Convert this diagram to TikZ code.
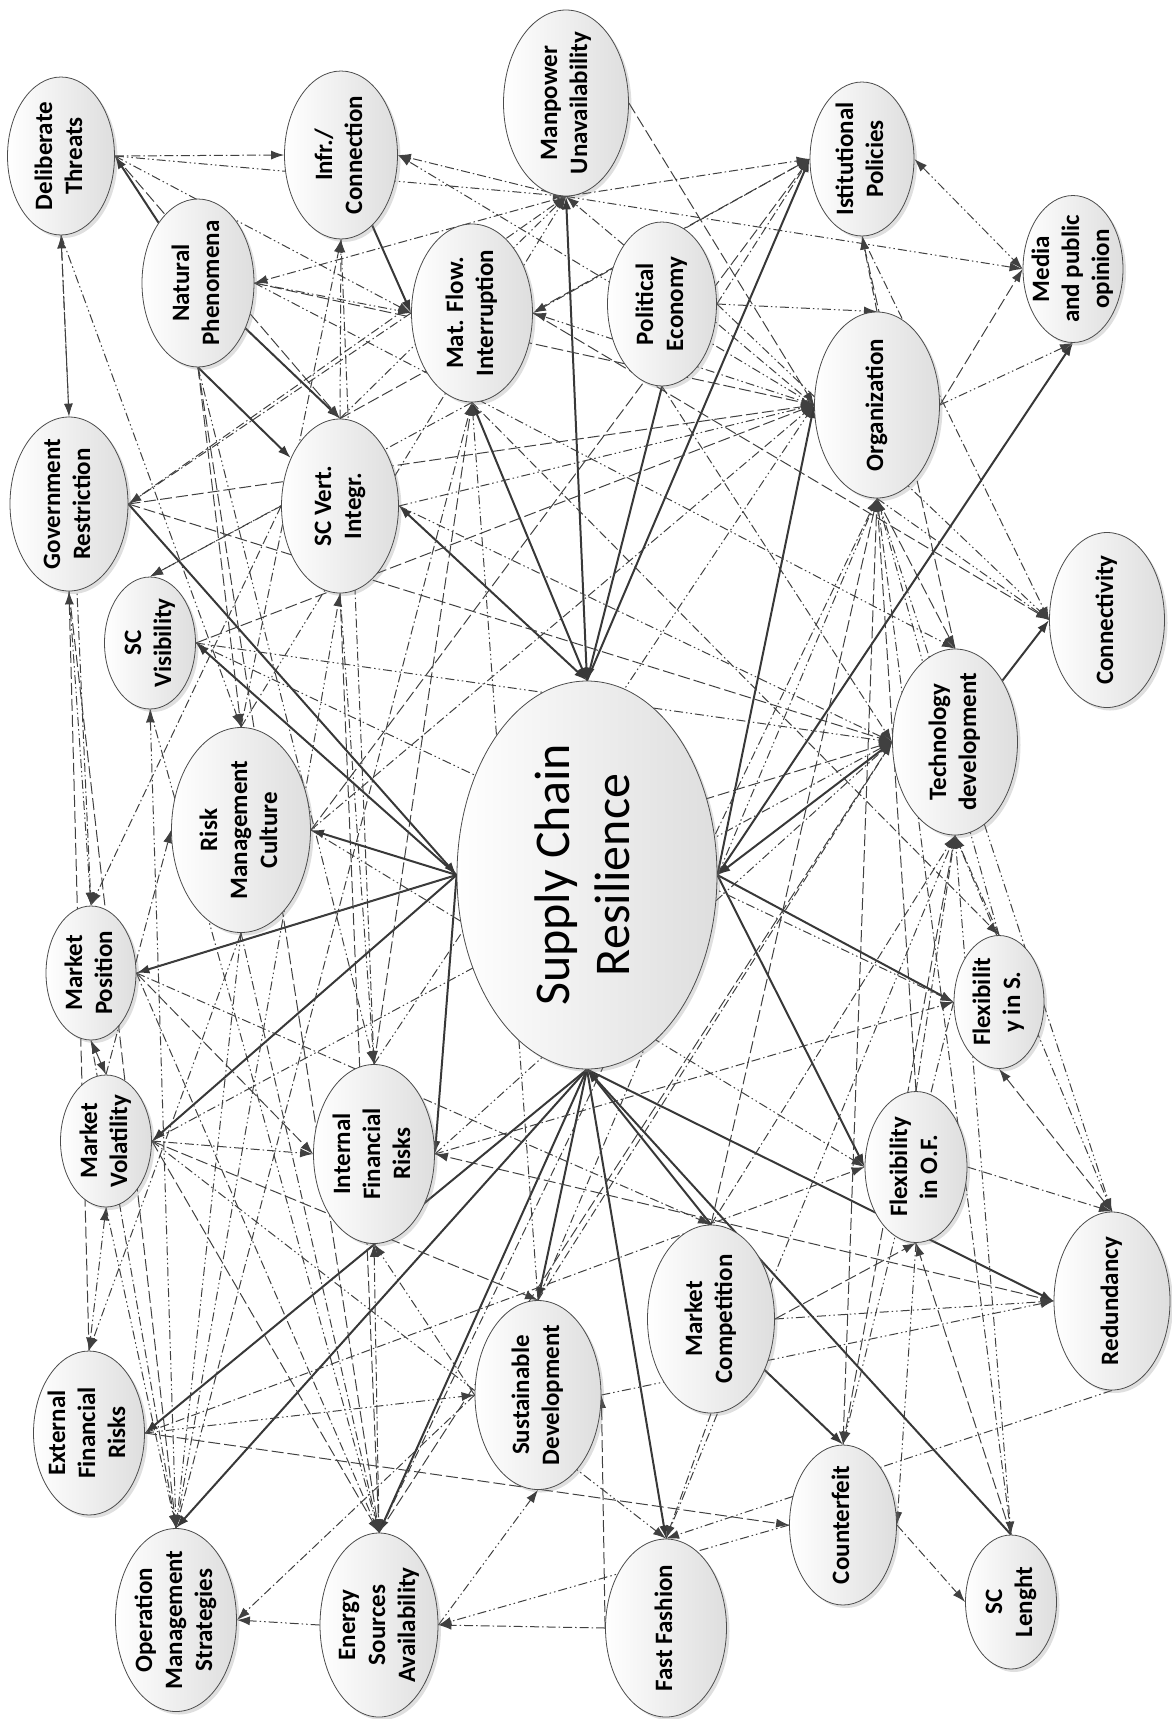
\documentclass[tikz,border=0pt]{standalone}
\usepackage{fontspec}
\setmainfont{Carlito}
\usepackage{graphicx}
\usetikzlibrary{shapes.geometric,shadows,arrows.meta,backgrounds}

\newcommand{\vlabel}[1]{\rotatebox{90}{\begin{tabular}{@{}c@{}}#1\end{tabular}}}

\begin{document}
\begin{tikzpicture}[x=1pt, y=-1pt, >={Latex[length=13pt,width=9pt]},
    factor/.style ={ellipse, draw=black!70, line width=0.8pt, left color=white, right color=black!13,
        drop shadow={opacity=0.25, shadow xshift=3pt, shadow yshift=-3pt}, inner sep=-12pt,
        font=\bfseries\fontsize{25}{30}\selectfont},
    core/.style ={factor, font=\fontsize{50}{60}\selectfont},
    impact/.style ={draw=black!78, line width=2pt, ->},
    link/.style ={draw=black!75, line width=1pt, dash pattern=on 9pt off 3pt on 1.5pt off 3pt on 1.5pt off 3pt, ->},
    linkb/.style ={link, dash pattern=on 9pt off 3pt on 1.5pt off 3pt},
    linkc/.style ={link, dash pattern=on 12pt off 4pt}]
   \useasboundingbox (0,0) rectangle (1171,1719);

   % top row
   \node[factor, minimum width=107pt, minimum height=158pt] (DT) at (61,156) {\vlabel{Deliberate\\Threats}};
   \node[factor, minimum width=113pt, minimum height=168pt] (IC) at (341,155) {\vlabel{Infr./\\Connection}};
   \node[factor, minimum width=125pt, minimum height=186pt] (MU) at (566,103) {\vlabel{Manpower\\Unavailability}};
   \node[factor, minimum width=104pt, minimum height=154pt] (IP) at (862,159) {\vlabel{Istitutional\\Policies}};
   \node[factor, minimum width=100pt, minimum height=147pt] (MO) at (1073,269) {\vlabel{Media\\and public\\opinion}};
   \node[factor, minimum width=112pt, minimum height=168pt] (NP) at (198,283) {\vlabel{Natural\\Phenomena}};
   \node[factor, minimum width=121pt, minimum height=178pt] (MF) at (472,313) {\vlabel{Mat. Flow.\\Interruption}};
   \node[factor, minimum width=109pt, minimum height=164pt] (PE) at (662,304) {\vlabel{Political\\Economy}};
   \node[factor, minimum width=125pt, minimum height=186pt] (OR) at (877,405) {\vlabel{Organization}};

   % middle
   \node[factor, minimum width=118pt, minimum height=174pt] (GR) at (69,504) {\vlabel{Government\\Restriction}};
   \node[factor, minimum width=117pt, minimum height=174pt] (VI) at (340,506) {\vlabel{SC Vert.\\Integr.}};
   \node[factor, minimum width=91pt, minimum height=132pt] (SV) at (150,643) {\vlabel{SC\\Visibility}};
   \node[factor, minimum width=115pt, minimum height=175pt] (CO) at (1107,620) {\vlabel{Connectivity}};
   \node[factor, minimum width=125pt, minimum height=186pt] (TD) at (955,742) {\vlabel{Technology\\development}};
   \node[factor, minimum width=139pt, minimum height=205pt] (RM) at (241,830) {\vlabel{Risk\\Management\\Culture}};
   \node[core, minimum width=260pt, minimum height=388pt] (SCR) at (587,875) {\vlabel{Supply Chain\\Resilience}};
   \node[factor, minimum width=90pt, minimum height=134pt] (PO) at (91,973) {\vlabel{Market\\Position}};
   \node[factor, minimum width=90pt, minimum height=133pt] (FS) at (999,1002) {\vlabel{Flexibilit\\y in S.}};
   \node[factor, minimum width=91pt, minimum height=132pt] (MV) at (106,1141) {\vlabel{Market\\Volatility}};
   \node[factor, minimum width=121pt, minimum height=179pt] (IF) at (374,1154) {\vlabel{Internal\\Financial\\Risks}};
   \node[factor, minimum width=102pt, minimum height=151pt] (FO) at (916,1167) {\vlabel{Flexibility\\in O.F.}};

   % bottom
   \node[factor, minimum width=111pt, minimum height=164pt] (EF) at (89,1433) {\vlabel{External\\Financial\\Risks}};
   \node[factor, minimum width=126pt, minimum height=189pt] (SD) at (538,1395) {\vlabel{Sustainable\\Development}};
   \node[factor, minimum width=127pt, minimum height=188pt] (MC) at (711,1319) {\vlabel{Market\\Competition}};
   \node[factor, minimum width=116pt, minimum height=178pt] (RE) at (1112,1301) {\vlabel{Redundancy}};
   \node[factor, minimum width=121pt, minimum height=183pt] (OM) at (176,1620) {\vlabel{Operation\\Management\\Strategies}};
   \node[factor, minimum width=118pt, minimum height=184pt] (EN) at (379,1625) {\vlabel{Energy\\Sources\\Availability}};
   \node[factor, minimum width=121pt, minimum height=178pt] (FF) at (666,1628) {\vlabel{Fast Fashion}};
   \node[factor, minimum width=107pt, minimum height=160pt] (CF) at (843,1525) {\vlabel{Counterfeit}};
   \node[factor, minimum width=91pt, minimum height=134pt] (SL) at (1011,1602) {\vlabel{SC\\Lenght}};

   \begin{scope}[on background layer]
   % solid links to and from the core
   \draw[impact] (SCR.north) to (MU.south);
   \draw[impact] (SCR.north) to (IP.west);
   \draw[impact] (PE.south) to (SCR.north);
   \draw[impact, <->] (MF.south) to (SCR.north);
   \draw[impact, <->] (VI.east) to (SCR.north);
   \draw[impact] (SCR.east) to (OR.west);
   \draw[impact] (SCR.east) to (MO.south);
   \draw[impact, <->] (TD.west) to (SCR.east);
   \draw[impact] (SCR.east) to (FS.west);
   \draw[impact] (SCR.east) to (FO.west);
   \draw[impact] (GR.east) to (SCR.west);
   \draw[impact] (SCR.west) to (SV.east);
   \draw[impact] (SCR.west) to (RM.east);
   \draw[impact] (SCR.west) to (PO.east);
   \draw[impact] (SCR.west) to (MV.east);
   \draw[impact] (SCR.west) to (IF.east);
   \draw[impact] (SCR.south) to (EF.east);
   \draw[impact] (SCR.south) to (OM.north);
   \draw[impact] (SCR.south) to (EN.north);
   \draw[impact] (SCR.south) to (SD.north);
   \draw[impact] (SCR.south) to (FF.north);
   \draw[impact] (MC.north) to (SCR.south);
   \draw[impact] (SL.north) to (SCR.south);
   \draw[impact] (SCR.south) to (RE.west);
   % solid links between factors
   \draw[impact] (TD) to (CO.west);
   \draw[impact] (IC) to (MF.west);
   \draw[impact] (NP) to (DT.east);
   \draw[impact] (NP) to (VI.north);
   \draw[impact] (NP.south) to (VI);
   \draw[impact] (MC) to (CF.north);

   % dashed links, upper part
   \draw[linkb] (DT.east) to (IC.west);
   \draw[link] (DT.east) to (MF.west);
   \draw[linkc] (DT.east) to (VI.north);
   \draw[link] (DT.east) to (MU.south);
   \draw[linkc, <->] (DT.south) to (GR.north);
   \draw[link] (DT.south) to (RM.north);
   \draw[linkb] (DT.south) to (PO.north);
   \draw[link] (NP.east) to (MF.west);
   \draw[linkb] (MU.south) to (NP.east);
   \draw[linkc] (NP.south) to (RM.north);
   \draw[link] (NP.south) to (IF.north);
   \draw[linkc] (NP.south) to (EN.north);
   \draw[linkc] (NP.east) to (OR.west);
   \draw[link] (NP.east) to (TD.north);
   \draw[linkb] (MU.south) to (IC.east);
   \draw[link] (OR.west) to (IC.east);
   \draw[link] (VI.north) to (IC.south);
   \draw[linkb] (IC.south) to (IF.north);
   \draw[link] (VI.south) to (IF.north);
   \draw[link] (OR.west) to (MF.east);
   \draw[linkb] (IP.west) to (MF.east);
   \draw[linkc] (MF.east) to (CO.west);
   \draw[linkb] (MF.west) to (GR.east);
   \draw[link] (MF.south) to (SV.north);
   \draw[linkb] (MF.south) to (FS.north);
   \draw[link] (VI.west) to (SV.north);
   \draw[linkb] (MU.south) to (IP.west);
   \draw[link] (MU.south) to (MO.west);
   \draw[linkc] (MU.east) to (OR.west);
   \draw[link] (VI.north) to (MU.south);
   \draw[linkb] (OR.west) to (MU.south);
   \draw[linkb] (GR.east) to (MU.south);
   \draw[linkc] (VI.north) to (IP.west);
   \draw[link, <->] (IP.east) to (MO.west);
   \draw[linkb] (OR.north) to (IP.south);
   \draw[linkc] (TD.north) to (IP.south);
   \draw[link] (PE.east) to (OR.north);
   \draw[linkb] (PE.east) to (IP.west);
   \draw[link] (OR.east) to (MO.south);
   \draw[linkc] (OR.east) to (MO.west);
   \draw[link] (FS.north) to (OR.south);
   \draw[linkc] (FO.north) to (OR.south);
   \draw[link] (OR.south) to (CO.west);
   \draw[linkc] (OR.south) to (TD.north);
   \draw[linkb] (IP.south) to (CO.west);
   \draw[link] (PE.east) to (CO.west);
   \draw[link] (VI.east) to (TD.west);
   \draw[linkb] (PE.south) to (TD.west);
   \draw[linkc] (GR.east) to (OR.west);
   \draw[linkc] (GR.east) to (TD.west);
   \draw[link] (VI.east) to (OR.west);
   \draw[linkb] (RM.east) to (OR.west);
   \draw[linkc] (SV.east) to (OR.west);
   \draw[link] (SV.east) to (TD.west);
   \draw[linkb] (RM.north) to (IC.south);
   \draw[link] (RM.north) to (MU.south);
   \draw[linkc] (RM.east) to (IP.west);
   \draw[link] (IF.north) to (OR.west);
   \draw[linkc] (IF.north) to (MF.south);

   % dashed links, right part
   \draw[linkb] (FS.north) to (TD.south);
   \draw[link] (TD.south) to (RE.north);
   \draw[linkc, <->] (FS.south) to (RE.north);
   \draw[link] (TD.south) to (SL.north);
   \draw[linkb] (FO.east) to (RE.north);
   \draw[linkc] (SL.north) to (FO.south);
   \draw[linkb] (SL.north) to (OR.south);
   \draw[link] (RE.north) to (OR.south);
   \draw[link] (FO.south) to (CF.east);
   \draw[linkb] (CF.east) to (SL.west);
   \draw[linkc] (OR.south) to (CF.north);
   \draw[link] (FS.west) to (CF.north);
   \draw[linkc] (CF.north) to (TD.south);
   \draw[link] (FF.north) to (TD.south);
   \draw[linkb] (FO.north) to (TD.south);
   \draw[linkc] (MC.north) to (OR.south);
   \draw[linkb] (MC.north) to (TD.south);
   \draw[link] (MC.east) to (RE.west);
   \draw[linkc] (MC.east) to (FO.south);
   \draw[link] (SD.east) to (RE.west);
   \draw[linkc] (RE.west) to (IF.east);
   \draw[link] (RE.south) to (FF.north);

   % dashed links, lower part
   \draw[linkb] (MC.south) to (FF.north);
   \draw[link] (EN.east) to (SD.south);
   \draw[linkb] (FF.west) to (EN.east);
   \draw[linkc] (FF.west) to (SD.east);
   \draw[link] (EN.west) to (OM.east);
   \draw[linkb] (SD.west) to (OM.east);
   \draw[link] (CF.west) to (EN.east);
   \draw[link] (SD.west) to (IF.south);
   \draw[linkb, <->] (IF.south) to (EN.north);
   \draw[linkc] (MV.east) to (SD.north);
   \draw[linkb] (SD.north) to (TD.west);
   \draw[link] (SD.north) to (OR.south);
   \draw[link] (SD.north) to (MF.south);
   \draw[link] (IF.east) to (TD.west);
   \draw[linkc] (EN.north) to (TD.west);
   \draw[linkb] (EN.north) to (OR.south);
   \draw[linkb] (EF.east) to (FO.west);
   \draw[link] (EF.east) to (SD.west);
   \draw[linkc] (EF.east) to (CF.west);
   \draw[link] (MV.east) to (FF.north);
   \draw[linkb] (PO.east) to (MC.north);

   % dashed links, left part
   \draw[link] (MV.south) to (OM.north);
   \draw[linkb] (PO.south) to (OM.north);
   \draw[link] (OM.north) to (SV.south);
   \draw[link] (RM.south) to (OM.north);
   \draw[linkc] (GR.south) to (OM.north);
   \draw[link] (OM.north) to (VI.south);
   \draw[linkb] (OM.north) to (MF.south);
   \draw[linkb] (RM.south) to (EN.north);
   \draw[linkc] (VI.south) to (EN.north);
   \draw[link] (SV.south) to (EN.north);
   \draw[linkb] (PO.east) to (EN.north);
   \draw[linkc] (MV.east) to (EN.north);
   \draw[linkc, <->] (MV.north) to (PO.south);
   \draw[link, <->] (MV.south) to (EF.north);
   \draw[linkb] (MV.east) to (IF.west);
   \draw[link] (RM.south) to (EF.north);
   \draw[linkc] (EF.north) to (GR.south);
   \draw[linkb] (VI.west) to (PO.north);
   \draw[link] (GR.south) to (PO.north);
   \draw[linkb] (MV.north) to (RM.west);
   \draw[linkc] (PO.east) to (IF.west);
   \draw[link] (MV.east) to (TD.west);
   \draw[linkb] (IF.east) to (FS.west);
   \draw[link] (SV.east) to (FS.west);
   \draw[linkc] (PO.east) to (TD.west);
   \draw[link] (RM.east) to (FO.west);
   \end{scope}
\end{tikzpicture}
\end{document}
